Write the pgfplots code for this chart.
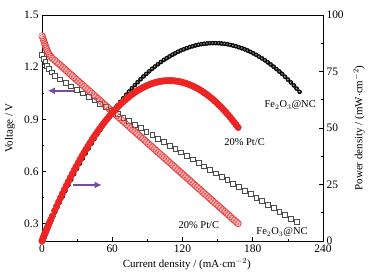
\documentclass[border=0pt]{standalone}
\usepackage{pgfplots}
\pgfplotsset{compat=1.18}
\usepackage{pgfplotstable}
\usepackage{fontspec}
\setmainfont{Liberation Serif}
\usetikzlibrary{arrows.meta}
\definecolor{ptred}{RGB}{236,36,36}
\definecolor{ptpol}{RGB}{236,60,60}
\definecolor{ptpink}{RGB}{248,190,190}
\definecolor{arrowpurple}{RGB}{122,72,168}

\pgfplotstableread{
I V P
0 1.27 0
0.6 1.26 0.76
1.3 1.25 1.63
2.0 1.24 2.48
2.8 1.23 3.44
3.5 1.22 4.27
4.2 1.21 5.08
5.0 1.20 6.00
6.0 1.19 7.14
7.0 1.18 8.26
8.2 1.17 9.59
9.5 1.16 11.02
11.0 1.15 12.65
13.0 1.14 14.82
15.2 1.13 17.18
17.5 1.12 19.60
20.0 1.11 22.20
22.5 1.10 24.75
24.9 1.09 27.14
27.4 1.08 29.59
29.9 1.07 31.99
32.3 1.06 34.24
34.8 1.05 36.54
37.3 1.04 38.79
39.8 1.03 40.99
42.2 1.02 43.04
44.7 1.01 45.15
47.2 1.00 47.20
49.6 0.99 49.10
52.1 0.98 51.06
54.6 0.97 52.96
57.0 0.96 54.72
59.5 0.95 56.53
62.0 0.94 58.28
64.5 0.93 59.99
66.9 0.92 61.55
69.4 0.91 63.15
71.9 0.90 64.71
74.3 0.89 66.13
76.8 0.88 67.58
79.3 0.87 68.99
81.7 0.86 70.26
84.2 0.85 71.57
86.7 0.84 72.83
89.1 0.83 73.95
91.6 0.82 75.11
94.1 0.81 76.22
96.5 0.80 77.20
99.0 0.79 78.21
101.5 0.78 79.17
104.0 0.77 80.08
106.4 0.76 80.86
108.9 0.75 81.68
111.4 0.74 82.44
113.8 0.73 83.07
116.3 0.72 83.74
118.8 0.71 84.35
121.2 0.70 84.84
123.7 0.69 85.35
126.2 0.68 85.82
128.6 0.67 86.16
131.1 0.66 86.53
133.6 0.65 86.84
136.1 0.64 87.10
138.5 0.63 87.26
141.0 0.62 87.42
143.5 0.61 87.54
145.9 0.60 87.54
148.4 0.59 87.56
150.9 0.58 87.52
153.3 0.57 87.38
155.8 0.56 87.25
158.3 0.55 87.07
160.7 0.54 86.78
163.2 0.53 86.50
165.7 0.52 86.16
168.1 0.51 85.73
170.6 0.50 85.30
173.1 0.49 84.82
175.6 0.48 84.29
178.0 0.47 83.66
180.5 0.46 83.03
183.0 0.45 82.35
185.4 0.44 81.58
187.9 0.43 80.80
190.4 0.42 79.97
192.8 0.41 79.05
195.3 0.40 78.12
197.8 0.39 77.14
200.2 0.38 76.08
202.7 0.37 75.00
205.2 0.36 73.87
207.6 0.35 72.66
210.1 0.34 71.43
212.6 0.33 70.16
215.1 0.32 68.83
217.5 0.31 67.43
220.0 0.30 66.00
}\fedata

\pgfplotstableread{
I V P
0 1.38 0
0.5 1.37 0.69
1.0 1.36 1.36
1.5 1.35 2.03
2.0 1.34 2.68
2.5 1.33 3.33
3.0 1.32 3.96
3.5 1.31 4.59
4.1 1.30 5.33
4.8 1.29 6.19
5.5 1.28 7.04
6.4 1.27 8.13
7.5 1.26 9.45
8.8 1.25 11.00
10.83 1.24 13.43
12.50 1.23 15.38
14.17 1.22 17.29
15.83 1.21 19.15
17.50 1.20 21.00
19.17 1.19 22.81
20.83 1.18 24.58
22.50 1.17 26.33
24.17 1.16 28.04
25.83 1.15 29.70
27.50 1.14 31.35
29.17 1.13 32.96
30.83 1.12 34.53
32.50 1.11 36.08
34.17 1.10 37.59
35.83 1.09 39.05
37.50 1.08 40.50
39.17 1.07 41.91
40.83 1.06 43.28
42.50 1.05 44.63
44.17 1.04 45.94
45.83 1.03 47.20
47.50 1.02 48.45
49.17 1.01 49.66
50.83 1.00 50.83
52.50 0.99 51.98
54.17 0.98 53.09
55.83 0.97 54.16
57.50 0.96 55.20
59.17 0.95 56.21
60.83 0.94 57.18
62.50 0.93 58.13
64.17 0.92 59.04
65.83 0.91 59.91
67.50 0.90 60.75
69.17 0.89 61.56
70.83 0.88 62.33
72.50 0.87 63.08
74.17 0.86 63.79
75.83 0.85 64.46
77.50 0.84 65.10
79.17 0.83 65.71
80.83 0.82 66.28
82.50 0.81 66.83
84.17 0.80 67.34
85.83 0.79 67.81
87.50 0.78 68.25
89.17 0.77 68.66
90.83 0.76 69.03
92.50 0.75 69.38
94.17 0.74 69.69
95.83 0.73 69.96
97.50 0.72 70.20
99.17 0.71 70.41
100.83 0.70 70.58
102.50 0.69 70.73
104.17 0.68 70.84
105.83 0.67 70.91
107.50 0.66 70.95
109.17 0.65 70.96
110.83 0.64 70.93
112.50 0.63 70.88
114.17 0.62 70.79
115.83 0.61 70.66
117.50 0.60 70.50
119.17 0.59 70.31
120.83 0.58 70.08
122.50 0.57 69.83
124.17 0.56 69.54
125.83 0.55 69.21
127.50 0.54 68.85
129.17 0.53 68.46
130.83 0.52 68.03
132.50 0.51 67.58
134.17 0.50 67.09
135.83 0.49 66.56
137.50 0.48 66.00
139.17 0.47 65.41
140.83 0.46 64.78
142.50 0.45 64.13
144.17 0.44 63.43
145.83 0.43 62.71
147.50 0.42 61.95
149.17 0.41 61.16
150.83 0.40 60.33
152.50 0.39 59.48
154.17 0.38 58.58
155.83 0.37 57.66
157.50 0.36 56.70
159.17 0.35 55.71
160.83 0.34 54.68
162.50 0.33 53.63
164.17 0.32 52.53
165.83 0.31 51.41
167.50 0.30 50.25
}\ptdata

\begin{document}
\begin{tikzpicture}
\pgfplotsset{
  every axis/.append style={
    scale only axis, width=281bp, height=226bp,
    xmin=0, xmax=240,
    tick align=inside,
    major tick length=4pt, minor tick length=2.2pt,
    /pgf/number format/assume math mode=true,
    tick label style={font=\fontsize{11.5}{13}\selectfont},
    label style={font=\fontsize{11}{13}\selectfont},
    axis line style={line width=0.6pt},
    every tick/.style={line width=0.6pt, black},
  }
}
\begin{axis}[
  name=main,
  ymin=0.2, ymax=1.5,
  xtick={0,60,120,180,240},
  minor xtick={30,90,150,210},
  ytick={0.3,0.6,0.9,1.2,1.5},
  yticklabels={0.3,0.6,0.9,1.2,1.5},
  minor ytick={0.45,0.75,1.05,1.35},
  xtick pos=left, ytick pos=left,
  xlabel={Current density / (mA$\cdot$cm$^{-2}$)},
  ylabel={Voltage / V},
  xlabel style={at={(axis description cs:0.515,0)}, anchor=center, yshift=-23bp},
  ylabel style={at={(axis description cs:0,0.5)}, anchor=center, yshift=32bp},
]
\addplot[only marks, mark=square*, mark size=2.4pt,
  mark options={draw=black!70, fill=white, line width=0.55pt},
  each nth point=2] table[x=I, y=V] {\fedata};
\addplot[ptpol, line width=6.8pt, line cap=round, no marks] table[x=I, y=V] {\ptdata};
\addplot[ptpink, line width=5.4pt, line cap=round, no marks] table[x=I, y=V] {\ptdata};
\addplot[only marks, mark=o, mark size=3.2pt,
  mark options={draw=ptpol, line width=0.4pt}] table[x=I, y=V] {\ptdata};
\draw[arrowpurple, line width=2.2pt, -{Latex[length=7pt,width=7pt]}] (axis cs:30,1.064) -- (axis cs:5,1.064);
\node[font=\fontsize{10.5}{12}\selectfont] at (axis cs:212,0.983) {Fe$_2$O$_3$@NC};
\node[font=\fontsize{10.5}{12}\selectfont] at (axis cs:173,0.771) {20\% Pt/C};
\node[font=\fontsize{10.5}{12}\selectfont] at (axis cs:134,0.294) {20\% Pt/C};
\node[font=\fontsize{10.5}{12}\selectfont] at (axis cs:205,0.252) {Fe$_2$O$_3$@NC};
\end{axis}
\begin{axis}[
  ymin=0, ymax=100,
  axis y line*=right, axis x line=none,
  ytick={0,25,50,75,100},
  minor ytick={12.5,37.5,62.5,87.5},
  ylabel={Power density / (mW$\cdot$cm$^{-2}$)},
  ylabel style={at={(axis description cs:1,0.5)}, anchor=center, yshift=-36bp},
]
\addplot[only marks, mark=ball, mark size=2.1pt,
  mark options={ball color=black}] table[x=I, y=P] {\fedata};
\addplot[only marks, mark=*, mark size=3.3pt,
  mark options={draw=ptred, fill=ptred}] table[x=I, y=P] {\ptdata};
\draw[arrowpurple, line width=2.2pt, -{Latex[length=7pt,width=7pt]}] (axis cs:26.5,24.8) -- (axis cs:51,24.8);
\end{axis}
\pgfresetboundingbox
\path ([xshift=-42bp,yshift=-35bp]main.south west) rectangle ([xshift=46bp,yshift=15bp]main.north east);
\end{tikzpicture}
\end{document}
